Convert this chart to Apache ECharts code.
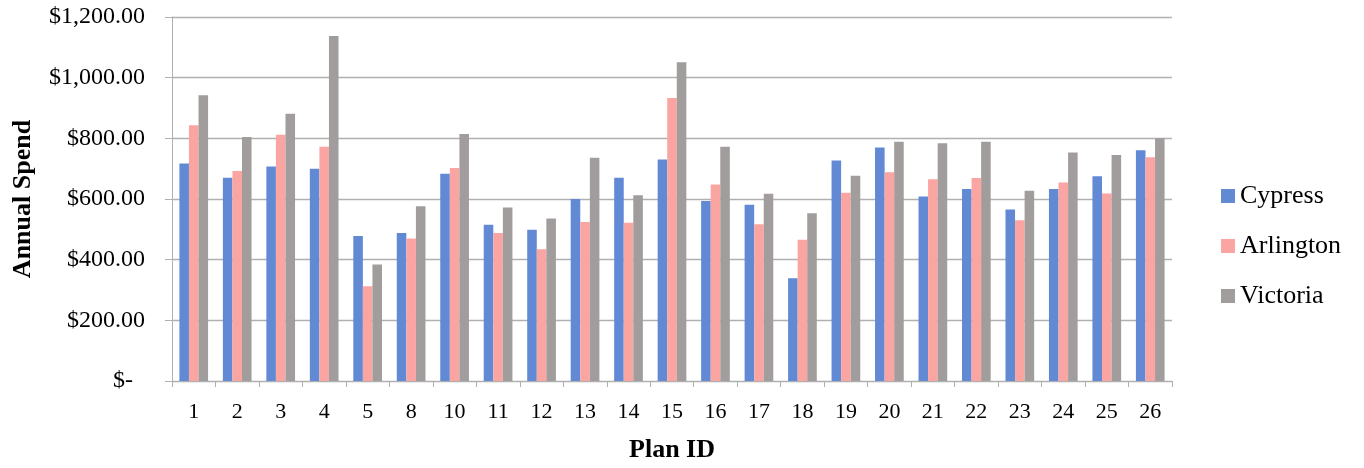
<!DOCTYPE html>
<html>
<head>
<meta charset="utf-8">
<title>Annual Spend by Plan ID</title>
<script src="https://cdn.jsdelivr.net/npm/echarts@6/dist/echarts.min.js"></script>
<style>
  html, body { margin: 0; padding: 0; background: #ffffff; }
  #chart { width: 1364px; height: 468px; }
</style>
</head>
<body>
<div id="chart"></div>
<script>
// Plan IDs along the category axis
const planIds = ['1', '2', '3', '4', '5', '8', '10', '11', '12', '13', '14', '15',
                 '16', '17', '18', '19', '20', '21', '22', '23', '24', '25', '26'];

// Annual spend per plan, one array per location
const cypress   = [717, 670, 707, 700, 478, 488, 683, 515, 499, 600, 670, 730,
                   593, 581, 339, 727, 770, 608, 633, 565, 633, 675, 761];
const arlington = [843, 692, 812, 772, 312, 470, 702, 488, 434, 524, 522, 933,
                   648, 517, 466, 621, 688, 665, 669, 530, 654, 618, 738];
const victoria  = [942, 804, 881, 1137, 384, 576, 814, 572, 536, 736, 612, 1051,
                   772, 617, 553, 677, 789, 784, 789, 627, 753, 745, 800];

// Value axis ticks
const yMin = 0, yMax = 1200, yStep = 200;

const serif = '"Liberation Serif", "Times New Roman", serif';
const gridGray = '#B0B0B0';

function money(v) {
  if (v === 0) return '{dash|$-}';
  return '$' + v.toLocaleString('en-US', { minimumFractionDigits: 2, maximumFractionDigits: 2 });
}

const chart = echarts.init(document.getElementById('chart'), null, { renderer: 'canvas' });

function barSeries(name, data, color) {
  return {
    name: name,
    type: 'bar',
    data: data,
    barGap: '0%',
    barCategoryGap: '34%',
    itemStyle: { color: color },
    emphasis: { disabled: true }
  };
}

chart.setOption({
  animation: false,
  backgroundColor: '#ffffff',
  textStyle: { fontFamily: serif, color: '#000000' },
  grid: { left: 172, right: 192, top: 17, bottom: 86, containLabel: false },
  legend: {
    orient: 'vertical',
    left: 1221,
    top: 183,
    padding: 0,
    itemWidth: 14,
    itemHeight: 14,
    itemGap: 24,
    icon: 'rect',
    textStyle: { fontFamily: serif, fontSize: 26, color: '#000000', lineHeight: 26 },
    data: ['Cypress', 'Arlington', 'Victoria']
  },
  xAxis: {
    type: 'category',
    data: planIds,
    name: 'Plan ID',
    nameLocation: 'middle',
    nameGap: 56,
    nameTextStyle: { fontFamily: serif, fontSize: 26, fontWeight: 'bold', color: '#000000' },
    axisLine: { show: true, lineStyle: { color: gridGray, width: 1 } },
    axisTick: { show: true, length: 6, alignWithLabel: false, lineStyle: { color: gridGray } },
    axisLabel: { fontFamily: serif, fontSize: 22, color: '#000000', margin: 20, interval: 0 },
    splitLine: { show: false }
  },
  yAxis: {
    type: 'value',
    min: yMin,
    max: yMax,
    interval: yStep,
    name: 'Annual Spend',
    nameLocation: 'middle',
    nameGap: 136,
    nameRotate: 90,
    nameTextStyle: { fontFamily: serif, fontSize: 26, fontWeight: 'bold', color: '#000000' },
    axisLine: { show: true, lineStyle: { color: gridGray, width: 1 } },
    axisTick: { show: true, length: 7, lineStyle: { color: gridGray } },
    axisLabel: {
      fontFamily: serif, fontSize: 24, color: '#000000', margin: 27,
      formatter: money,
      rich: { dash: { fontFamily: serif, fontSize: 24, color: '#000000', padding: [0, 12, 0, 0] } }
    },
    splitLine: { show: true, lineStyle: { color: gridGray, width: 1.3 } }
  },
  series: [
    barSeries('Cypress', cypress, '#6189D4'),
    barSeries('Arlington', arlington, '#FBA5A3'),
    barSeries('Victoria', victoria, '#A29D9D')
  ]
});
</script>
</body>
</html>
